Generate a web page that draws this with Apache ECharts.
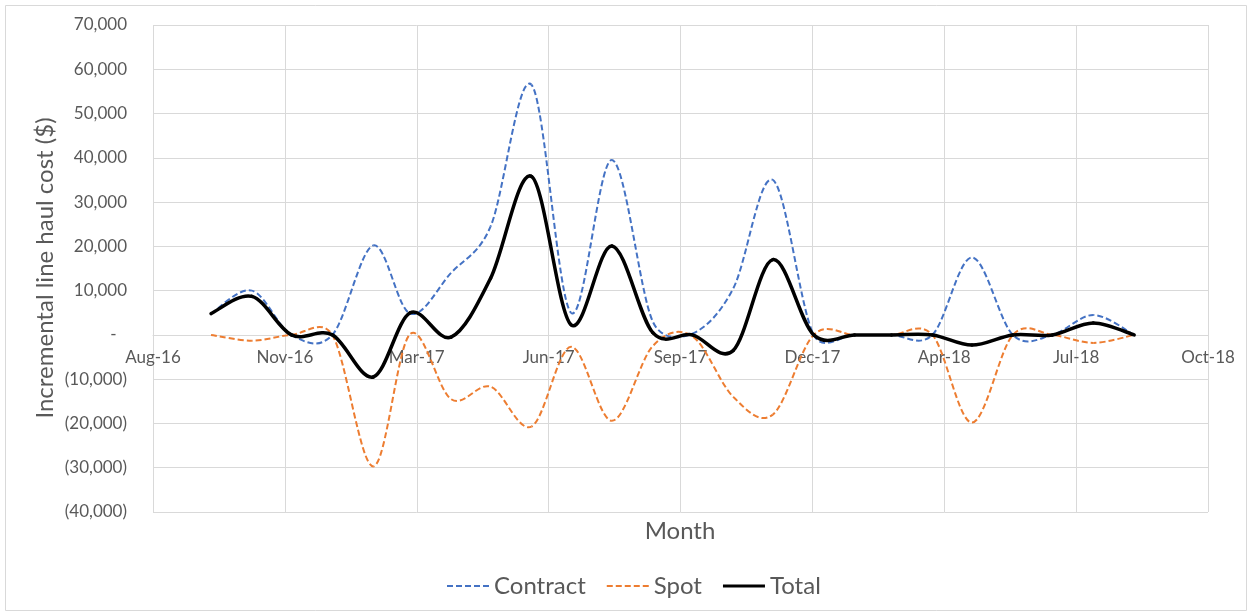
<!DOCTYPE html>
<html>
<head>
<meta charset="utf-8">
<script src="https://cdn.jsdelivr.net/npm/echarts@6/dist/echarts.min.js"></script>
<style>
  html, body { margin: 0; padding: 0; background: #ffffff; }
  #chart { width: 1252px; height: 616px; }
</style>
</head>
<body>
<div id="chart"></div>
<script>
// Monthly incremental line haul cost, Oct 2016 – Sep 2018
const months = [
  '2016-10-01', '2016-11-01', '2016-12-01', '2017-01-01', '2017-02-01', '2017-03-01',
  '2017-04-01', '2017-05-01', '2017-06-01', '2017-07-01', '2017-08-01', '2017-09-01',
  '2017-10-01', '2017-11-01', '2017-12-01', '2018-01-01', '2018-02-01', '2018-03-01',
  '2018-04-01', '2018-05-01', '2018-06-01', '2018-07-01', '2018-08-01', '2018-09-01'
];
const contract = [
  4800, 10000, 0, 0, 20200, 4800,
  14000, 24500, 56500, 5000, 39500, 3000,
  300, 10500, 35000, 0, 0, 0,
  0, 17500, 0, 0, 4500, 0
];
const spot = [
  0, -1300, 0, 0, -29700, 200,
  -14500, -11700, -20700, -2700, -19400, -2500,
  -300, -14000, -18000, 0, 0, 0,
  0, -19800, 0, 0, -1800, 0
];
const total = [
  4800, 8700, 0, 0, -9500, 5000,
  -500, 12800, 35800, 2300, 20100, 500,
  0, -3500, 17000, 0, 0, 0,
  0, -2300, 0, 0, 2700, 0
];

// Date axis: day serials, first tick 42600 (Aug-16), step of 100 days
const xMin = 42600, xMax = 43400, xStep = 100;
const xTickLabels = ['Aug-16', 'Nov-16', 'Mar-17', 'Jun-17', 'Sep-17', 'Dec-17', 'Apr-18', 'Jul-18', 'Oct-18'];
const yMin = -40000, yMax = 70000, yStep = 10000;

const EPOCH = Date.UTC(1899, 11, 30);
function toSerial(iso) {
  const [y, m, d] = iso.split('-').map(Number);
  return Math.round((Date.UTC(y, m - 1, d) - EPOCH) / 86400000);
}
function pairs(values) {
  return months.map((m, i) => [toSerial(m), values[i]]);
}
function yLabel(v) {
  if (v === 0) return '-{pad|00}';
  const s = Math.abs(v).toLocaleString('en-US');
  return v < 0 ? '(' + s + ')' : s;
}

const FONT = 'Lato, "Open Sans", sans-serif';
const TEXT = '#595959';
const GRID = '#d9d9d9';
const DASH = [6, 3];

// Smoothed line: each data item draws the cubic segment to the next item.
// Tangents follow the neighbouring points (1/6 of the chord), but a control
// arm never reaches past half of its own segment.
function arm(prev, cur, next, segLen) {
  const vx = (next[0] - prev[0]) / 6, vy = (next[1] - prev[1]) / 6;
  const len = Math.hypot(vx, vy);
  const k = len > segLen / 2 && len > 0 ? (segLen / 2) / len : 1;
  return [vx * k, vy * k];
}
function segment(api, i, n) {
  const c = k => {
    const j = Math.max(0, Math.min(n - 1, k));
    return api.coord([api.value(0, j), api.value(1, j)]);
  };
  const p0 = c(i - 1), p1 = c(i), p2 = c(i + 1), p3 = c(i + 2);
  const d12 = Math.hypot(p2[0] - p1[0], p2[1] - p1[1]);
  const a1 = arm(p0, p1, p2, d12);
  const a2 = arm(p1, p2, p3, d12);
  return {
    x1: p1[0], y1: p1[1], x2: p2[0], y2: p2[1],
    cpx1: p1[0] + a1[0], cpy1: p1[1] + a1[1],
    cpx2: p2[0] - a2[0], cpy2: p2[1] - a2[1]
  };
}
function bezierLength(s) {
  let len = 0, px = s.x1, py = s.y1;
  for (let t = 1; t <= 24; t++) {
    const u = t / 24, a = (1 - u) * (1 - u) * (1 - u), b = 3 * (1 - u) * (1 - u) * u,
          cc = 3 * (1 - u) * u * u, d = u * u * u;
    const x = a * s.x1 + b * s.cpx1 + cc * s.cpx2 + d * s.x2;
    const y = a * s.y1 + b * s.cpy1 + cc * s.cpy2 + d * s.y2;
    len += Math.hypot(x - px, y - py);
    px = x; py = y;
  }
  return len;
}
function smoothSeries(name, values, color, width, dash, z) {
  return {
    name: name, type: 'custom', z: z,
    coordinateSystem: 'cartesian2d',
    encode: { x: 0, y: 1 },
    itemStyle: { color: color },
    data: pairs(values),
    renderItem: function (params, api) {
      const n = months.length;
      const i = params.dataIndexInside;
      if (i >= n - 1) return null;
      let offset = 0;
      if (dash) {
        for (let k = 0; k < i; k++) offset += bezierLength(segment(api, k, n));
      }
      return {
        type: 'bezierCurve',
        shape: segment(api, i, n),
        style: {
          stroke: color, lineWidth: width, fill: null,
          lineDash: dash || null, lineDashOffset: offset,
          lineCap: dash ? 'butt' : 'round', lineJoin: 'round'
        }
      };
    }
  };
}

const dashIcon = 'path://M0,0h6v2h-6zM9,0h6v2h-6zM18,0h6v2h-6zM27,0h6v2h-6zM36,0h6v2h-6z';
const solidIcon = 'path://M0,0h42v3h-42z';

const chart = echarts.init(document.getElementById('chart'), null, { renderer: 'canvas' });
chart.setOption({
  backgroundColor: '#ffffff',
  animation: false,
  grid: { left: 153, right: 44, top: 25, bottom: 104 },
  xAxis: {
    type: 'value',
    min: xMin, max: xMax, interval: xStep,
    // axis sits on the zero line of the value axis
    offset: -(487 * (0 - yMin) / (yMax - yMin)),
    axisLine: { onZero: false, lineStyle: { color: GRID, width: 1 } },
    axisTick: { show: false },
    axisLabel: {
      color: TEXT, fontFamily: FONT, fontSize: 17, margin: 14,
      showMinLabel: true, showMaxLabel: true,
      formatter: v => xTickLabels[Math.round((v - xMin) / xStep)]
    },
    splitLine: { show: true, lineStyle: { color: GRID, width: 1 } }
  },
  yAxis: {
    type: 'value',
    min: yMin, max: yMax, interval: yStep,
    axisLine: { show: false },
    axisTick: { show: false },
    axisLabel: {
      color: TEXT, fontFamily: FONT, fontSize: 17, margin: 26,
      formatter: yLabel,
      rich: { pad: { color: 'transparent', fontFamily: FONT, fontSize: 9 } }
    },
    splitLine: { show: true, lineStyle: { color: GRID, width: 1 } }
  },
  legend: {
    left: 442, top: 569,
    itemWidth: 42, itemHeight: 3, itemGap: 21,
    textStyle: { color: TEXT, fontFamily: FONT, fontSize: 24 },
    data: [
      { name: 'Contract', icon: dashIcon },
      { name: 'Spot', icon: dashIcon },
      { name: 'Total', icon: solidIcon }
    ]
  },
  graphic: [
    {
      type: 'rect', silent: true,
      shape: { x: 5.5, y: 5.5, width: 1241, height: 605 },
      style: { fill: 'none', stroke: GRID, lineWidth: 1 }
    },
    {
      type: 'text', silent: true, x: 680, y: 531,
      style: { text: 'Month', fill: TEXT, font: '24px ' + FONT, textAlign: 'center', textVerticalAlign: 'middle' }
    },
    {
      type: 'text', silent: true, x: 45, y: 268, rotation: Math.PI / 2,
      style: { text: 'Incremental line haul cost ($)', fill: TEXT, font: '24px ' + FONT, textAlign: 'center', textVerticalAlign: 'middle' }
    }
  ],
  series: [
    smoothSeries('Contract', contract, '#4472C4', 2, DASH, 2),
    smoothSeries('Spot', spot, '#ED7D31', 2, DASH, 3),
    smoothSeries('Total', total, '#000000', 3.5, null, 4)
  ]
});
</script>
</body>
</html>
